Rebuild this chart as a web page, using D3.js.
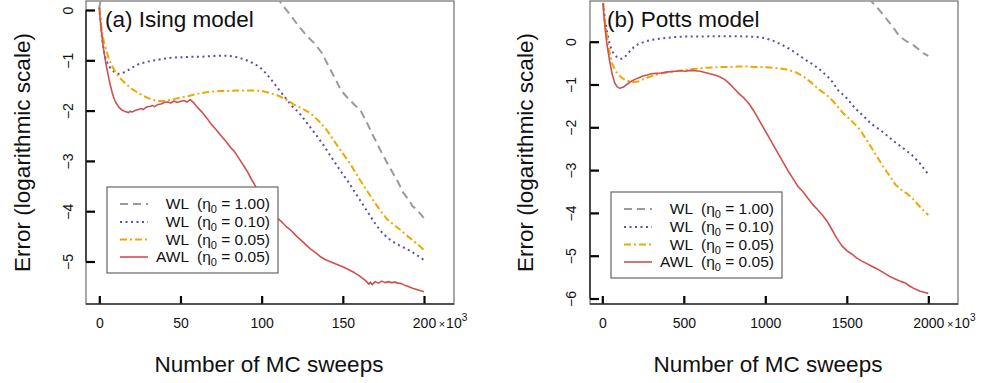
<!DOCTYPE html>
<html>
<head>
<meta charset="utf-8">
<script src="https://cdn.jsdelivr.net/npm/d3@7/dist/d3.min.js"></script>
<style>
  html, body { margin: 0; padding: 0; background: #fff; }
  svg { display: block; }
  text { font-family: "Liberation Sans", Arial, Helvetica, sans-serif; fill: #111; }
</style>
</head>
<body>
<svg id="chart" width="985" height="383"></svg>
<script>
// ---- Ising model: error vs. MC sweeps (x in units of 10^3 sweeps) ----
const isingWL100 = [[0,0.05],[2,0.4],[50,0.9],[100,0.7],[106,0.45],[111,0.18],[117,-0.07],[123,-0.33],[128,-0.52],[133,-0.68],[137,-0.85],[141,-1.1],[145,-1.35],[149,-1.6],[153,-1.75],[157,-1.88],[161,-2.0],[165,-2.25],[169,-2.52],[173,-2.78],[177,-3.02],[181,-3.25],[184,-3.42],[187,-3.62],[190,-3.75],[193,-3.9],[196,-3.98],[200,-4.14]];
const isingWL010 = [[0,0.05],[1,-0.3],[2,-0.65],[3,-0.85],[4,-0.98],[6,-1.12],[8,-1.2],[10,-1.25],[12,-1.27],[14,-1.26],[17,-1.21],[20,-1.15],[24,-1.08],[28,-1.04],[32,-1.01],[38,-0.98],[44,-0.95],[50,-0.94],[56,-0.93],[62,-0.93],[68,-0.92],[74,-0.91],[80,-0.91],[85,-0.94],[90,-0.99],[95,-1.06],[99,-1.14],[103,-1.27],[107,-1.43],[111,-1.6],[115,-1.76],[119,-1.92],[123,-2.04],[128,-2.25],[133,-2.46],[138,-2.68],[143,-2.93],[148,-3.17],[153,-3.4],[158,-3.65],[162,-3.85],[166,-4.05],[170,-4.25],[174,-4.42],[178,-4.54],[182,-4.63],[186,-4.7],[190,-4.76],[195,-4.86],[200,-4.97]];
const isingWL005 = [[0,0.05],[1,-0.25],[2,-0.5],[3,-0.65],[4,-0.76],[6,-0.98],[8,-1.12],[10,-1.24],[13,-1.36],[16,-1.46],[20,-1.57],[24,-1.65],[28,-1.72],[32,-1.78],[36,-1.81],[40,-1.81],[45,-1.78],[50,-1.74],[55,-1.71],[60,-1.67],[65,-1.64],[70,-1.62],[75,-1.61],[80,-1.61],[85,-1.6],[90,-1.6],[95,-1.6],[100,-1.61],[105,-1.65],[110,-1.7],[115,-1.78],[120,-1.88],[125,-1.96],[130,-2.05],[135,-2.2],[140,-2.38],[145,-2.62],[150,-2.85],[155,-3.08],[160,-3.35],[165,-3.6],[169,-3.8],[173,-3.98],[177,-4.15],[181,-4.26],[185,-4.36],[190,-4.5],[195,-4.63],[200,-4.77]];
const isingAWL005 = [[0,0.05],[0.5,-0.15],[1,-0.35],[2,-0.62],[3,-0.86],[4,-1.05],[5,-1.22],[6,-1.38],[7,-1.52],[8,-1.65],[9,-1.75],[10,-1.83],[12,-1.93],[14,-1.99],[16,-2.02],[18,-2.04],[19,-2.01],[20,-2.03],[22,-2.0],[24,-1.98],[26,-1.96],[27,-1.98],[29,-1.93],[31,-1.92],[33,-1.9],[34,-1.92],[36,-1.88],[38,-1.87],[40,-1.84],[42,-1.83],[44,-1.85],[46,-1.81],[48,-1.84],[50,-1.82],[52,-1.8],[54,-1.83],[56,-1.78],[58,-1.84],[60,-1.92],[63,-2.02],[66,-2.14],[69,-2.27],[72,-2.38],[75,-2.5],[78,-2.61],[81,-2.74],[83,-2.8],[85,-2.9],[88,-3.05],[91,-3.2],[94,-3.38],[97,-3.55],[100,-3.7],[103,-3.86],[106,-4.0],[109,-4.12],[112,-4.2],[115,-4.3],[118,-4.38],[121,-4.48],[124,-4.57],[127,-4.66],[130,-4.75],[133,-4.82],[136,-4.9],[139,-4.96],[142,-5.0],[145,-5.04],[148,-5.08],[151,-5.12],[154,-5.17],[157,-5.22],[160,-5.28],[162,-5.33],[164,-5.38],[166,-5.45],[167,-5.41],[168,-5.46],[170,-5.4],[172,-5.43],[174,-5.39],[176,-5.42],[178,-5.4],[180,-5.42],[182,-5.41],[184,-5.43],[186,-5.44],[188,-5.47],[190,-5.49],[193,-5.53],[196,-5.56],[198,-5.58],[200,-5.6]];

// ---- Potts model: error vs. MC sweeps (x in units of 10^3 sweeps) ----
const pottsWL100 = [[5,0.95],[20,1.3],[1600,1.3],[1644,0.97],[1700,0.74],[1765,0.43],[1825,0.12],[1870,0.0],[1908,-0.08],[1970,-0.27],[2000,-0.33]];
const pottsWL010 = [[5,0.9],[15,0.55],[30,0.2],[45,-0.05],[60,-0.22],[80,-0.33],[100,-0.39],[120,-0.4],[140,-0.35],[160,-0.26],[190,-0.14],[220,-0.06],[260,0.0],[300,0.04],[350,0.07],[400,0.09],[450,0.11],[500,0.12],[600,0.12],[700,0.13],[800,0.13],[900,0.12],[950,0.11],[1000,0.08],[1050,0.02],[1100,-0.07],[1150,-0.17],[1200,-0.3],[1250,-0.43],[1300,-0.55],[1350,-0.7],[1400,-0.88],[1450,-1.15],[1500,-1.32],[1550,-1.55],[1600,-1.73],[1650,-1.92],[1700,-2.05],[1750,-2.2],[1800,-2.36],[1850,-2.5],[1900,-2.65],[1950,-2.85],[2000,-3.1]];
const pottsWL005 = [[5,0.9],[15,0.5],[30,0.1],[45,-0.25],[60,-0.5],[80,-0.68],[100,-0.78],[130,-0.87],[160,-0.92],[190,-0.94],[220,-0.93],[250,-0.88],[290,-0.82],[330,-0.77],[380,-0.73],[430,-0.7],[480,-0.67],[530,-0.65],[580,-0.63],[630,-0.61],[680,-0.6],[730,-0.59],[780,-0.59],[830,-0.58],[880,-0.58],[930,-0.59],[980,-0.59],[1030,-0.6],[1080,-0.62],[1130,-0.65],[1180,-0.7],[1230,-0.8],[1280,-0.95],[1330,-1.12],[1380,-1.25],[1430,-1.45],[1480,-1.68],[1530,-1.85],[1580,-2.05],[1630,-2.35],[1680,-2.65],[1720,-2.9],[1760,-3.12],[1800,-3.35],[1840,-3.48],[1870,-3.55],[1900,-3.65],[1930,-3.78],[1960,-3.9],[2000,-4.05]];
const pottsAWL005 = [[5,0.9],[10,0.6],[20,0.2],[30,-0.1],[45,-0.45],[60,-0.75],[75,-0.95],[90,-1.05],[108,-1.09],[130,-1.06],[150,-1.0],[175,-0.93],[200,-0.88],[225,-0.84],[250,-0.8],[275,-0.78],[300,-0.75],[330,-0.74],[360,-0.73],[390,-0.71],[420,-0.7],[450,-0.69],[480,-0.68],[510,-0.69],[540,-0.67],[570,-0.68],[600,-0.69],[630,-0.72],[660,-0.75],[690,-0.78],[720,-0.82],[750,-0.88],[780,-0.98],[810,-1.1],[840,-1.22],[870,-1.32],[900,-1.45],[930,-1.62],[960,-1.82],[990,-2.02],[1020,-2.22],[1050,-2.42],[1080,-2.62],[1110,-2.82],[1140,-3.02],[1170,-3.2],[1200,-3.38],[1230,-3.5],[1260,-3.65],[1290,-3.8],[1320,-3.92],[1350,-4.05],[1380,-4.2],[1410,-4.4],[1440,-4.6],[1470,-4.77],[1500,-4.88],[1530,-4.96],[1560,-5.05],[1590,-5.12],[1620,-5.18],[1650,-5.24],[1680,-5.3],[1710,-5.36],[1740,-5.43],[1770,-5.5],[1800,-5.55],[1830,-5.6],[1860,-5.64],[1890,-5.72],[1920,-5.78],[1950,-5.83],[1980,-5.86],[2000,-5.88]];

// Tick values
const isingXTicks = [0, 50, 100, 150, 200];
const isingYTicks = [0, -1, -2, -3, -4, -5];
const pottsXTicks = [0, 500, 1000, 1500, 2000];
const pottsYTicks = [0, -1, -2, -3, -4, -5, -6];

// Legend entries
const legendNames = ["WL", "WL", "WL", "AWL"];
const legendEta = ["1.00", "0.10", "0.05", "0.05"];

// Series styles
const styles = [
  { color: "#9a9a9a", dash: "8,5",       width: 2 },
  { color: "#5b4ea6", dash: "2,3.5",     width: 2 },
  { color: "#eea800", dash: "7,3,2,3",   width: 2 },
  { color: "#d0504f", dash: null,        width: 1.6 }
];

const svg = d3.select("#chart");

function drawPanel(cfg) {
  const x = d3.scaleLinear().domain(cfg.xDomain).range(cfg.xRange);
  const y = d3.scaleLinear().domain(cfg.yDomain).range(cfg.yRange);
  const [bx0, bx1] = cfg.box.x, [by0, by1] = cfg.box.y;
  const g = svg.append("g");

  const clipId = "clip-" + cfg.id;
  svg.append("clipPath").attr("id", clipId)
    .append("rect").attr("x", bx0).attr("y", by0).attr("width", bx1 - bx0).attr("height", by1 - by0);

  // Frame
  g.append("rect").attr("x", bx0).attr("y", by0).attr("width", bx1 - bx0).attr("height", by1 - by0)
    .attr("fill", "none").attr("stroke", "#7a7a7a").attr("stroke-width", 1.3);

  // Series lines
  const line = d3.line().x(d => x(d[0])).y(d => y(d[1]));
  const lines = g.append("g").attr("clip-path", `url(#${clipId})`);
  cfg.series.forEach((s, i) => {
    const st = styles[i];
    lines.append("path").datum(s).attr("d", line)
      .attr("fill", "none").attr("stroke", st.color).attr("stroke-width", st.width)
      .attr("stroke-dasharray", st.dash).attr("stroke-linejoin", "round");
  });

  // Bottom axis: ticks point inward
  const xAxis = g.append("g").attr("transform", `translate(0,${by1})`)
    .call(d3.axisBottom(x).tickValues(cfg.xTicks).tickSizeInner(-8).tickSizeOuter(0).tickFormat(d3.format("d")));
  xAxis.select(".domain").remove();
  xAxis.append("line").attr("x1", bx0).attr("x2", bx1).attr("stroke", "#333").attr("stroke-width", 1.6);
  xAxis.selectAll(".tick line").attr("stroke", "#000").attr("stroke-width", 2.2);
  xAxis.selectAll(".tick text").attr("y", 24).attr("dy", 0)
    .attr("font-size", 14).attr("fill", "#111")
    .style("font-family", '"Liberation Sans", Arial, sans-serif');

  // "× 10³" multiplier placed after the last tick label
  const lastTick = cfg.xTicks[cfg.xTicks.length - 1];
  const lastLabel = xAxis.selectAll(".tick text").filter(d => d === lastTick);
  const labelW = lastLabel.node().getComputedTextLength();
  const mult = xAxis.append("text").attr("x", x(lastTick) + labelW / 2 + 3).attr("y", 24)
    .attr("text-anchor", "start").attr("font-size", 14);
  mult.append("tspan").attr("font-size", 11).text("\u00d7");
  mult.append("tspan").attr("font-size", 14).attr("dx", 1).text("10");
  mult.append("tspan").attr("font-size", 10).attr("dy", -7).text("3");

  // Left axis: ticks point inward, labels rotated
  const yAxis = g.append("g").attr("transform", `translate(${bx0},0)`)
    .call(d3.axisLeft(y).tickValues(cfg.yTicks).tickSizeInner(-9).tickSizeOuter(0).tickFormat(d3.format("d")));
  yAxis.select(".domain").remove();
  yAxis.append("line")
    .attr("y1", y(d3.max(cfg.yTicks))).attr("y2", y(d3.min(cfg.yTicks)))
    .attr("stroke", "#222").attr("stroke-width", 1.4);
  yAxis.selectAll(".tick line").attr("stroke", "#000").attr("stroke-width", 2.2);
  yAxis.selectAll(".tick text")
    .attr("x", null).attr("dy", null).attr("text-anchor", "middle")
    .attr("transform", `translate(${cfg.yLabelX - bx0},0) rotate(-90)`)
    .attr("font-size", 14).attr("fill", "#111")
    .style("font-family", '"Liberation Sans", Arial, sans-serif');

  // Axis titles
  g.append("text").attr("x", cfg.xTitleX).attr("y", 372).attr("text-anchor", "middle")
    .attr("font-size", 22.5).text("Number of MC sweeps");
  g.append("text").attr("transform", `translate(${cfg.yTitleX},${(by0 + by1) / 2}) rotate(-90)`)
    .attr("text-anchor", "middle").attr("font-size", 22.5).text("Error (logarithmic scale)");

  // Panel label
  g.append("text").attr("x", cfg.labelX).attr("y", 27).attr("font-size", 22.5).text(cfg.label);

  // Legend
  const lg = g.append("g").attr("transform", `translate(${cfg.legend[0]},${cfg.legend[1]})`);
  lg.append("rect").attr("width", 171).attr("height", 86)
    .attr("fill", "#fff").attr("stroke", "#666").attr("stroke-width", 1.2);
  const rowY = [22, 40, 57.5, 75];
  legendNames.forEach((name, i) => {
    const st = styles[i];
    lg.append("line").attr("x1", 13).attr("x2", 41).attr("y1", rowY[i] - 5).attr("y2", rowY[i] - 5)
      .attr("stroke", st.color).attr("stroke-width", st.width).attr("stroke-dasharray", st.dash);
    lg.append("text").attr("x", 82).attr("y", rowY[i]).attr("text-anchor", "end")
      .attr("font-size", 15.5).text(name);
    const t = lg.append("text").attr("x", 90).attr("y", rowY[i]).attr("font-size", 15.5);
    t.append("tspan").text("(\u03b7");
    t.append("tspan").text("0").attr("font-size", 11).attr("dy", 4);
    t.append("tspan").text(" = " + legendEta[i] + ")").attr("dy", -4);
  });
}

drawPanel({
  id: "ising",
  series: [isingWL100, isingWL010, isingWL005, isingAWL005],
  xDomain: [0, 200], xRange: [99.3, 424],
  yDomain: [0, -5], yRange: [10, 261.5],
  box: { x: [86, 454], y: [1, 304] },
  xTicks: isingXTicks, yTicks: isingYTicks,
  yLabelX: 73, yTitleX: 30, xTitleX: 269, labelX: 105,
  label: "(a) Ising model",
  legend: [107, 187]
});

drawPanel({
  id: "potts",
  series: [pottsWL100, pottsWL010, pottsWL005, pottsAWL005],
  xDomain: [0, 2000], xRange: [602.3, 928.3],
  yDomain: [0, -6], yRange: [41.7, 298.5],
  box: { x: [590, 958], y: [1, 304] },
  xTicks: pottsXTicks, yTicks: pottsYTicks,
  yLabelX: 576, yTitleX: 533, xTitleX: 768, labelX: 607,
  label: "(b) Potts model",
  legend: [611, 192]
});
</script>
</body>
</html>
